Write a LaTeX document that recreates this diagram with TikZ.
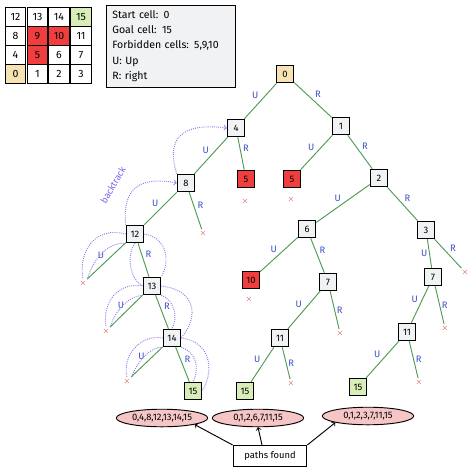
\documentclass[tikz,border=0pt]{standalone}
\usepackage{fontspec}
\setmainfont{Fira Sans}
\usetikzlibrary{positioning,shapes.geometric}

\definecolor{boxgray}{HTML}{F1F2F3}
\definecolor{cellred}{HTML}{F03E3E}
\definecolor{cellgreen}{HTML}{D8EDB8}
\definecolor{cellyellow}{HTML}{F7E2B2}
\definecolor{pathred}{HTML}{F6C6C6}
\definecolor{edgegreen}{HTML}{4F9A55}
\definecolor{labblue}{HTML}{3B4FC7}
\definecolor{crossred}{HTML}{E03131}
\definecolor{trackpurple}{HTML}{8C7AE6}

\tikzset{
  cell/.style={draw, thick, fill=white, minimum width=17.5pt, minimum height=16pt, inner sep=0pt, font=\small},
  state/.style={draw, thick, fill=boxgray, minimum size=15pt, inner sep=0pt, font=\footnotesize},
  bad/.style={fill=cellred},
  goal/.style={fill=cellgreen},
  start/.style={fill=cellyellow},
  move/.style={draw=edgegreen, thick},
  lbl/.style={text=labblue, font=\footnotesize, inner sep=1.5pt},
  dead/.style={text=crossred, font=\scriptsize, inner sep=0.5pt},
  track/.style={draw=trackpurple, densely dotted, thick},
  found/.style={ellipse, draw, thick, fill=pathred, minimum width=78pt, minimum height=15pt, inner sep=0pt, font=\footnotesize}
}

\begin{document}
\begin{tikzpicture}[x=0.03cm, y=-0.03cm]
\useasboundingbox (0,0) rectangle (474,472);

% Grid of cells
\foreach \r/\a/\b/\c/\d in {0/12/13/14/15, 1/8/9/10/11, 2/4/5/6/7, 3/0/1/2/3}{
  \node[cell] (c\a) at (15.5,17+19*\r) {\a};
  \node[cell] (c\b) at (37.5,17+19*\r) {\b};
  \node[cell] (c\c) at (59,17+19*\r) {\c};
  \node[cell] (c\d) at (81,17+19*\r) {\d};
}
\node[cell, goal] at (c15) {15};
\node[cell, bad] at (c9) {9};
\node[cell, bad] at (c10) {10};
\node[cell, bad] at (c5) {5};
\node[cell, start] at (c0) {0};

% Legend
\node[draw, thick, fill=boxgray, minimum width=110pt, minimum height=70pt, text width=100pt, align=left,
      font=\fontsize{9}{13}\selectfont] (info) at (171,46)
  {Start cell: 0\\ Goal cell: 15\\ Forbidden cells: 5,9,10\\ U: Up\\ R: right};

% States
\node[state, start] (n0) at (285,74) {0};
\node[state] (n4) at (236,128) {4};
\node[state] (n1) at (341,126) {1};
\node[state, bad] (n5a) at (246,179) {5};
\node[state, bad] (n5b) at (292,179) {5};
\node[state] (n2) at (379,178) {2};
\node[state] (n8) at (186,183) {8};
\node[state] (n12) at (135,234) {12};
\node[state] (n6) at (307,229) {6};
\node[state] (n3) at (426,230) {3};
\node[state] (n13) at (152,286) {13};
\node[state, bad] (n10) at (251,280) {10};
\node[state] (n7m) at (328,282) {7};
\node[state] (n7r) at (433,277) {7};
\node[state] (n14) at (172,338) {14};
\node[state] (n11m) at (280,338) {11};
\node[state] (n11r) at (407,332) {11};
\node[state, goal] (n15a) at (193,391) {15};
\node[state, goal] (n15b) at (245,391) {15};
\node[state, goal] (n15r) at (358,387) {15};

% Dead ends
\node[dead] (x5a) at (245,201) {$\times$};
\node[dead] (x5b) at (291,199) {$\times$};
\node[dead] (x8) at (203,233) {$\times$};
\node[dead] (x12) at (83,283) {$\times$};
\node[dead] (x13) at (106,331) {$\times$};
\node[dead] (x14) at (127,381) {$\times$};
\node[dead] (x10) at (249,299) {$\times$};
\node[dead] (x7m) at (340,333) {$\times$};
\node[dead] (x11m) at (291,383) {$\times$};
\node[dead] (x3) at (465,272) {$\times$};
\node[dead] (x7r) at (445,328) {$\times$};
\node[dead] (x11r) at (419,382) {$\times$};

% Moves
\draw[move] (n0) -- node[lbl, above left]{U} (n4);
\draw[move] (n0) -- node[lbl, above right]{R} (n1);
\draw[move] (n4) -- node[lbl, above left]{U} (n8);
\draw[move] (n4) -- node[lbl, above right]{R} (n5a);
\draw[move] (n1) -- node[lbl, above left]{U} (n5b);
\draw[move] (n1) -- node[lbl, above right]{R} (n2);
\draw[move] (n8) -- node[lbl, above left]{U} (n12);
\draw[move] (n8) -- node[lbl, above right]{R} (x8);
\draw[move] (n2) -- node[lbl, above left]{U} (n6);
\draw[move] (n2) -- node[lbl, above right]{R} (n3);
\draw[move] (n12) -- node[lbl, above left]{U} (x12);
\draw[move] (n12) -- node[lbl, above right]{R} (n13);
\draw[move] (n6) -- node[lbl, above left]{U} (n10);
\draw[move] (n6) -- node[lbl, above right]{R} (n7m);
\draw[move] (n3) -- node[lbl, left]{U} (n7r);
\draw[move] (n3) -- node[lbl, above right]{R} (x3);
\draw[move] (n13) -- node[lbl, above left]{U} (x13);
\draw[move] (n13) -- node[lbl, above right]{R} (n14);
\draw[move] (n7m) -- node[lbl, above left]{U} (n11m);
\draw[move] (n7m) -- node[lbl, right]{R} (x7m);
\draw[move] (n7r) -- node[lbl, above left]{U} (n11r);
\draw[move] (n7r) -- node[lbl, right]{R} (x7r);
\draw[move] (n14) -- node[lbl, above left]{U} (x14);
\draw[move] (n14) -- node[lbl, above right]{R} (n15a);
\draw[move] (n11m) -- node[lbl, above left]{U} (n15b);
\draw[move] (n11m) -- node[lbl, right]{R} (x11m);
\draw[move] (n11r) -- node[lbl, above left]{U} (n15r);
\draw[move] (n11r) -- node[lbl, right]{R} (x11r);

% Backtracking
\node[text=trackpurple!85!blue, rotate=60, font=\footnotesize] (bt) at (113,185) {backtrack};
\draw[track, ->] (n8.north west) .. controls (166,140) and (180,122) .. (n4.west);
\draw[track, ->] (n12.north west) .. controls (122,188) and (140,176) .. (n8.west);
\draw[track] (n12.west) .. controls (96,226) and (78,250) .. (x12.north);
\draw[track] (n12.south west) .. controls (106,242) and (92,262) .. (x12.north east);
\draw[track] (n12.east) .. controls (168,238) and (170,262) .. (n13.north east);
\draw[track] (n12.south) .. controls (126,255) and (130,280) .. (n13.west);
\draw[track] (n13.west) .. controls (118,282) and (102,302) .. (x13.north);
\draw[track] (n13.south west) .. controls (128,296) and (114,312) .. (x13.north east);
\draw[track] (n13.east) .. controls (195,290) and (200,315) .. (n14.east);
\draw[track] (n13.south east) .. controls (175,300) and (178,318) .. (n14.north);
\draw[track] (n14.west) .. controls (140,334) and (122,356) .. (x14.north);
\draw[track] (n14.south west) .. controls (150,346) and (136,364) .. (x14.north east);
\draw[track] (n14.east) .. controls (212,342) and (214,372) .. (n15a.east);
\draw[track] (n14.south east) .. controls (196,352) and (200,368) .. (n15a.north);

% Paths found
\node[found] (p1) at (162,418) {0,4,8,12,13,14,15};
\node[found] (p2) at (258,418) {0,1,2,6,7,11,15};
\node[found] (p3) at (368,416) {0,1,2,3,7,11,15};
\node[draw, thick, minimum width=63pt, minimum height=18pt, inner sep=1pt, font=\footnotesize] (pf) at (270,456) {paths found};
\draw[->, thick] (pf.north west) -- (p1.south east);
\draw[->, thick] (pf.north) ++(-8,0) coordinate (pfm) (pfm) -- (p2.south);
\draw[->, thick] (pf.north east) -- (p3.south west);
\end{tikzpicture}
\end{document}
